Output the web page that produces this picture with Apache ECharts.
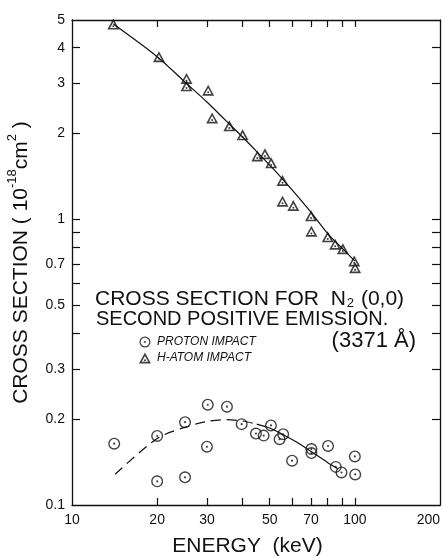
<!DOCTYPE html>
<html><head><meta charset="utf-8">
<script src="https://cdn.jsdelivr.net/npm/echarts@6/dist/echarts.min.js"></script>
<style>html,body{margin:0;padding:0;background:#fff}#c{width:443px;height:558px}</style>
</head><body><div id="c"></div>
<script>
// H-atom impact (triangles)
var hAtomEnergy = [14.0, 20.3, 25.4, 25.4, 30.3, 31.3, 36.0, 40.1, 45.2, 48.1, 50.6, 55.5, 55.5, 60.6, 70.0, 70.2, 80.2, 85.2, 90.7, 99.5, 100.2];
var hAtomSigma  = [4.84, 3.72, 3.12, 2.94, 2.84, 2.27, 2.13, 1.98, 1.67, 1.70, 1.58, 1.37, 1.16, 1.12, 1.03, 0.91, 0.87, 0.82, 0.79, 0.716, 0.678];
// Proton impact (circles)
var protonEnergy = [14.1, 20.0, 20.0, 25.1, 25.1, 30.2, 30.0, 35.3, 39.8, 44.7, 47.6, 50.5, 54.2, 55.8, 60.0, 70.2, 70.2, 80.4, 85.6, 89.7, 100.0, 100.3];
var protonSigma  = [0.164, 0.1745, 0.121, 0.195, 0.125, 0.2245, 0.160, 0.221, 0.192, 0.178, 0.175, 0.190, 0.170, 0.177, 0.143, 0.157, 0.152, 0.161, 0.136, 0.130, 0.148, 0.128];
// fitted curves
var hFitEnergy = [14, 20, 25, 30, 35, 40, 45, 50, 55, 60, 70, 80, 90, 100];
var hFitSigma  = [4.84, 3.72, 3.04, 2.58, 2.22, 1.95, 1.73, 1.55, 1.40, 1.27, 1.06, 0.895, 0.795, 0.715];
var pDashEnergy = [14.2, 20, 25, 30, 35, 40, 45];
var pDashSigma  = [0.128, 0.171, 0.187, 0.196, 0.199, 0.197, 0.192];
var pSolidEnergy = [45, 50, 56, 63, 70, 80, 87];
var pSolidSigma  = [0.192, 0.186, 0.176, 0.165, 0.154, 0.141, 0.134];
// axis ticks
var xLabelValues = [10, 20, 30, 50, 70, 100, 200];
var xTickValues = [20, 30, 40, 50, 60, 70, 80, 90, 100];
var yLabelValues = [0.1, 0.2, 0.3, 0.5, 0.7, 1, 2, 3, 4, 5];
var yTickValues = [0.2, 0.3, 0.4, 0.5, 0.6, 0.7, 0.8, 0.9, 1, 2, 3, 4];

function zip(a, b) { return a.map(function (v, i) { return [v, b[i]]; }); }

var triPath = 'path://M10 1 L19.5 18.5 L0.5 18.5 Z M10 6.4 L4.87 15.9 L15.13 15.9 Z M8.4 13.2 A1.6 1.6 0 1 0 11.6 13.2 A1.6 1.6 0 1 0 8.4 13.2 Z';
var cirPath = 'path://M10 0 A10 10 0 1 1 10 20 A10 10 0 1 1 10 0 Z M10 2.3 A7.7 7.7 0 1 0 10 17.7 A7.7 7.7 0 1 0 10 2.3 Z M10 8.2 A1.8 1.8 0 1 1 10 11.8 A1.8 1.8 0 1 1 10 8.2 Z';

var FONT = 'Liberation Sans';
var fmt = function (v) { return String(+(+v).toPrecision(3)); };

function xAx(pos, show) {
  return {
    type: 'log', logBase: 10, min: 10, max: 200, position: pos,
    axisLine: { show: true, onZero: false, lineStyle: { color: '#111', width: 1.3 } },
    axisTick: { show: true, inside: true, length: 7, customValues: xTickValues, lineStyle: { color: '#111', width: 1.2 } },
    axisLabel: { show: show, customValues: xLabelValues, formatter: fmt, color: '#111', fontSize: 14, fontFamily: FONT, margin: 8, alignMaxLabel: 'right' },
    splitLine: { show: false }, minorTick: { show: false },
    name: show ? 'ENERGY  (keV)' : '', nameLocation: 'middle', nameGap: 31,
    nameTextStyle: { color: '#111', fontSize: 21, fontFamily: FONT, padding: [0, 17, 0, 0] }
  };
}
function yAx(pos, show) {
  return {
    type: 'log', logBase: 10, min: 0.1, max: 5, position: pos,
    axisLine: { show: true, onZero: false, lineStyle: { color: '#111', width: 1.3 } },
    axisTick: { show: true, inside: true, length: 8, customValues: yTickValues, lineStyle: { color: '#111', width: 1.2 } },
    axisLabel: { show: show, customValues: yLabelValues, formatter: fmt, color: '#111', fontSize: 14, fontFamily: FONT, margin: 7 },
    splitLine: { show: false }, minorTick: { show: false },
    name: show ? '{a|CROSS SECTION ( 10}{s|-18}{a|cm}{s|2}{a| )}' : '',
    nameLocation: 'middle', nameGap: 40, nameRotate: 90,
    nameTextStyle: {
      color: '#111', fontFamily: FONT,
      rich: {
        a: { fontSize: 21, fontFamily: FONT, color: '#111', lineHeight: 26, verticalAlign: 'bottom' },
        s: { fontSize: 13, fontFamily: FONT, color: '#111', lineHeight: 26, verticalAlign: 'top' }
      }
    }
  };
}

var chart = echarts.init(document.getElementById('c'), null, { renderer: 'canvas' });
chart.setOption({
  animation: false,
  backgroundColor: '#fff',
  grid: { left: 72, right: 3, top: 20, bottom: 53, containLabel: false, outerBoundsMode: 'none' },
  xAxis: [xAx('bottom', true), xAx('top', false)],
  yAxis: [yAx('left', true), yAx('right', false)],
  legend: {
    orient: 'vertical', left: 134, top: 331, itemGap: 4, itemWidth: 12, itemHeight: 11,
    data: ['PROTON IMPACT', 'H-ATOM IMPACT'],
    textStyle: { fontSize: 12, fontStyle: 'italic', fontFamily: FONT, color: '#111', padding: [0, 0, 0, 1] }
  },
  graphic: [
    { type: 'text', left: 95, top: 289, style: { text: '{a|CROSS SECTION FOR  N}{b|2}{a| (0,0)}', rich: {
      a: { fontSize: 21, fontFamily: FONT, fill: '#111', lineHeight: 22, verticalAlign: 'bottom' },
      b: { fontSize: 13, fontFamily: FONT, fill: '#111', lineHeight: 13, verticalAlign: 'bottom', padding: [7, 1, 0, 1] } } } },
    { type: 'text', left: 96, top: 309, style: { text: 'SECOND POSITIVE EMISSION.', font: '20px "' + FONT + '"', fill: '#111' } },
    { type: 'text', right: 27, top: 330, style: { text: '(3371 Å)', font: '22px "' + FONT + '"', fill: '#111' } }
  ],
  series: [
    { name: 'H-atom fit', type: 'line', data: zip(hFitEnergy, hFitSigma), smooth: 0.3, showSymbol: false, symbol: 'none',
      lineStyle: { color: '#111', width: 1.2 }, z: 2 },
    { name: 'proton fit dashed', type: 'line', data: zip(pDashEnergy, pDashSigma), smooth: 0.3, symbol: 'none',
      lineStyle: { color: '#111', width: 1.2, type: [10, 6] }, z: 2 },
    { name: 'proton fit solid', type: 'line', data: zip(pSolidEnergy, pSolidSigma), smooth: 0.3, symbol: 'none',
      lineStyle: { color: '#111', width: 1.2 }, z: 2 },
    { name: 'H-ATOM IMPACT', type: 'scatter', data: zip(hAtomEnergy, hAtomSigma), symbol: triPath, symbolSize: [12, 11],
      itemStyle: { color: '#111' }, z: 3 },
    { name: 'PROTON IMPACT', type: 'scatter', data: zip(protonEnergy, protonSigma), symbol: cirPath, symbolSize: 12,
      itemStyle: { color: '#111' }, z: 3 }
  ]
});
</script></body></html>
